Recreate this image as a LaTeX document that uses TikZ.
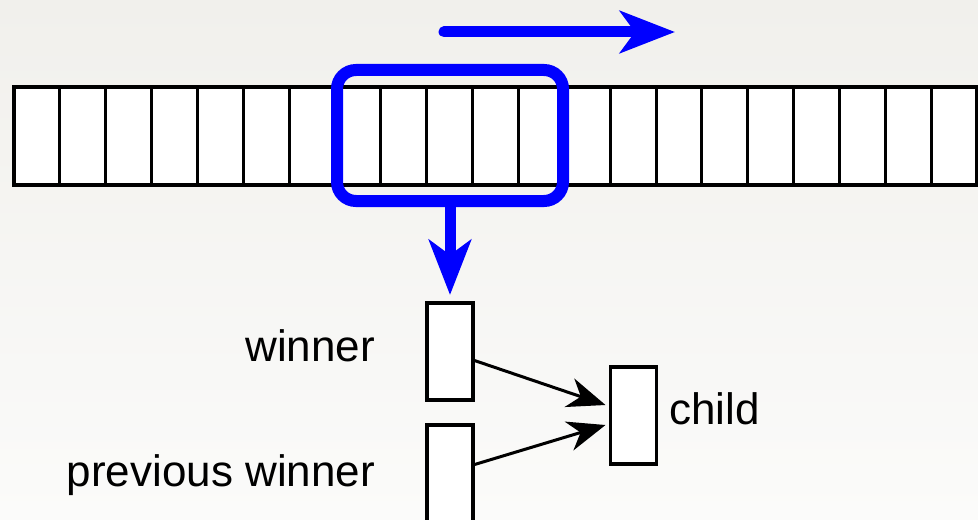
\documentclass[tikz,border=0pt]{standalone}
\usepackage{fontspec}
\setmainfont{Liberation Sans}
\usetikzlibrary{arrows.meta}
\definecolor{bgtop}{RGB}{241,240,236}
\definecolor{bgbottom}{RGB}{251,251,250}
\definecolor{winblue}{RGB}{0,0,255}
\tikzset{
  cell/.style={draw=black, fill=white, line width=1.5pt, rectangle,
    inner sep=0pt, outer sep=0pt, minimum width=22.93pt, minimum height=49pt},
  slot/.style={draw=black, fill=white, line width=1.75pt, rectangle,
    inner sep=0pt, outer sep=0pt, minimum width=23pt, minimum height=48.5pt},
  lbl/.style={inner sep=0pt, outer sep=0pt, font=\fontsize{22pt}{26pt}\selectfont},
  bluearrow/.style={draw=winblue, line width=5.5pt,
    -{Stealth[length=27.5pt, width=21pt, inset=7.5pt]}},
  blackarrow/.style={draw=black, line width=1.5pt,
    -{Stealth[length=19pt, width=15pt, inset=6pt]}}
}
\begin{document}
\begin{tikzpicture}[x=0.5pt, y=-0.5pt]
  % page frame and soft background
  \useasboundingbox (0,0) rectangle (978,519);
  \shade[top color=bgtop, bottom color=bgbottom] (0,0) rectangle (978,519);

  % the array of 21 cells
  \foreach \i in {1,...,21} {
    \node[cell] (cell\i) at ({14 + (\i-0.5)*45.857}, 136) {};
  }
  \draw[line width=2pt] (cell1.north west) rectangle (cell21.south east);

  % sliding window over the array
  \node[draw=winblue, line width=6pt, rounded corners=9.5pt, rectangle,
        inner sep=0pt, outer sep=0pt, minimum width=113pt, minimum height=65.5pt]
        (window) at (450,135.5) {};

  % direction of the slide
  \coordinate (slidestart) at (444,32);
  \coordinate (slideend) at (675,32);
  \draw[bluearrow, line cap=round] (slidestart) -- (slideend);

  % lower slots
  \node[slot] (winner) at (450,351.5) {};
  \node[slot] (prevwinner) at (450,473.5) {};
  \node[slot] (child) at (633.5,415.5) {};

  % window result goes to the winner slot
  \draw[bluearrow, shorten >=4pt] (window.south) -- (winner.north);

  % both parents feed the child
  \draw[blackarrow] ([yshift=-4.25pt]winner.east) -- ([xshift=-2.5pt, yshift=5.25pt]child.west);
  \draw[blackarrow] ([yshift=4.25pt]prevwinner.east) -- ([xshift=-2.5pt, yshift=-4.75pt]child.west);

  % labels
  \node[lbl, anchor=base east] (winnerlbl) at (375,361) {winner};
  \node[lbl, anchor=base east] (prevlbl) at (375,486) {previous winner};
  \node[lbl, anchor=base west] (childlbl) at (669,424) {child};
\end{tikzpicture}
\end{document}
